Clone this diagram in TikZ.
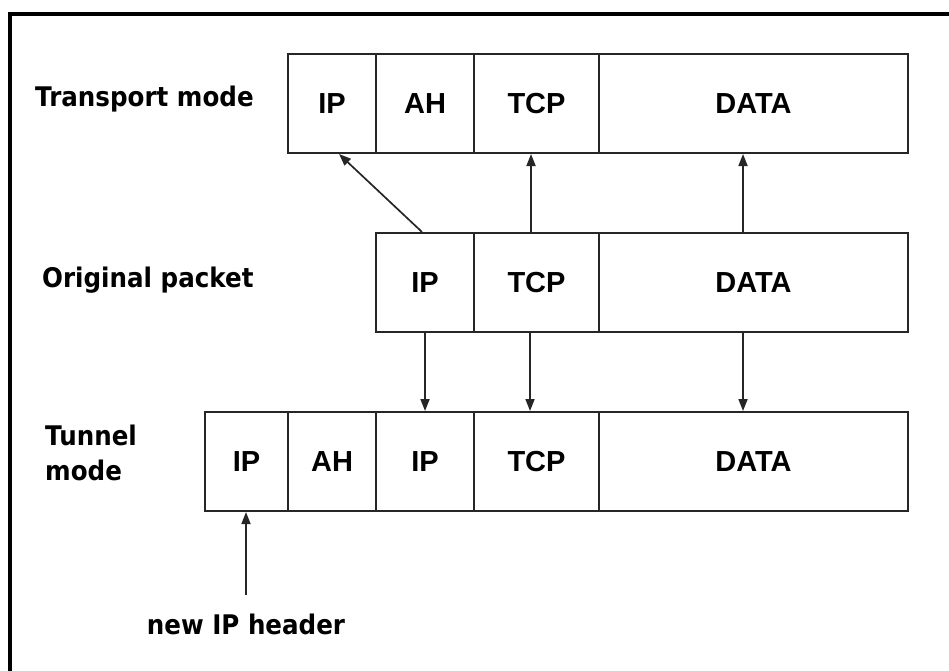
\documentclass[tikz,border=0pt]{standalone}
\usepackage{fontspec}
\setmainfont{Liberation Sans}
\newfontfamily\lblfont{DejaVu Sans}[FakeStretch=0.91]
\usetikzlibrary{arrows.meta}
\begin{document}
\begin{tikzpicture}[x=1pt,y=-1pt,
  cell/.style={draw=black!85,line width=2pt,rectangle,inner sep=0pt,
    minimum height=99pt,font=\fontsize{29}{31}\selectfont\bfseries},
  lbl/.style={inner sep=0pt,font=\lblfont\fontsize{27}{33}\selectfont\bfseries,align=left},
  arr/.style={draw=black!85,line width=1.7pt,-{Triangle[length=12pt,width=9pt]}}]
\useasboundingbox (0,0) rectangle (949,670);
\fill[white] (0,0) rectangle (949,670);
% frame
\draw[line width=4.5pt] (10,672) -- (10,14) -- (951,14);
% transport row
\node[cell,minimum width=88pt] (t1) at (332,103.5) {IP};
\node[cell,minimum width=98pt] (t2) at (425,103.5) {AH};
\node[cell,minimum width=125pt] (t3) at (536.5,103.5) {TCP};
\node[cell,minimum width=309pt] (t4) at (753.5,103.5) {DATA};
% original row
\node[cell,minimum width=98pt] (o1) at (425,282.5) {IP};
\node[cell,minimum width=125pt] (o2) at (536.5,282.5) {TCP};
\node[cell,minimum width=309pt] (o3) at (753.5,282.5) {DATA};
% tunnel row
\node[cell,minimum width=83pt] (u1) at (246.5,461.5) {IP};
\node[cell,minimum width=88pt] (u2) at (332,461.5) {AH};
\node[cell,minimum width=98pt] (u3) at (425,461.5) {IP};
\node[cell,minimum width=125pt] (u4) at (536.5,461.5) {TCP};
\node[cell,minimum width=309pt] (u5) at (753.5,461.5) {DATA};
% labels
\node[lbl,anchor=base west] (lt) at (35,106) {Transport mode};
\node[lbl,anchor=base west] (lo) at (42,287) {Original packet};
\node[lbl,anchor=base west] (lu1) at (45,445) {Tunnel};
\node[lbl,anchor=base west] (lu2) at (45,480) {mode};
\node[lbl,anchor=base] (hdr) at (246,634) {new IP header};
\coordinate (hdrtop) at (246,595);
% arrows
\draw[arr] ([xshift=47pt]o1.north west) -- ([xshift=52pt]t1.south west);
\draw[arr] ([xshift=58pt]o2.north west) -- ([xshift=58pt]t3.south west);
\draw[arr] ([xshift=145pt]o3.north west) -- ([xshift=145pt]t4.south west);
\draw[arr] ([xshift=50pt]o1.south west) -- ([xshift=50pt]u3.north west);
\draw[arr] ([xshift=57pt]o2.south west) -- ([xshift=57pt]u4.north west);
\draw[arr] ([xshift=145pt]o3.south west) -- ([xshift=145pt]u5.north west);
\draw[arr] (hdrtop) -- (hdrtop |- u1.south);
\end{tikzpicture}
\end{document}
